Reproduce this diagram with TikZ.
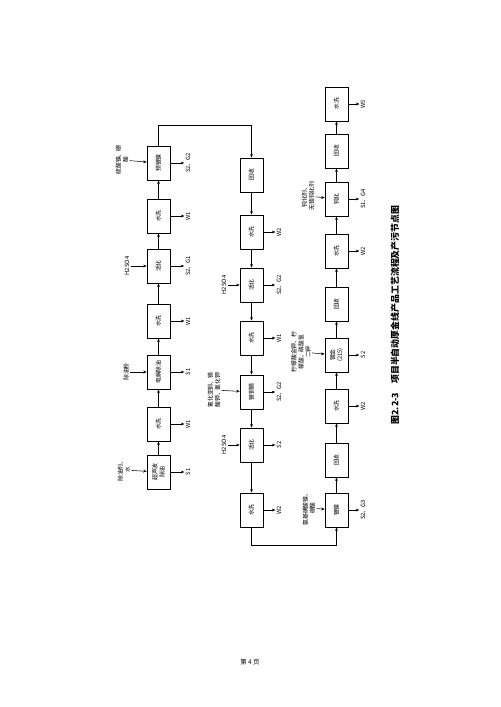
\documentclass[tikz,border=0pt]{standalone}
\usepackage{fontspec}
\newfontfamily\cjk{Noto Sans CJK SC}
\usetikzlibrary{arrows.meta,positioning}

\begin{document}
\begin{tikzpicture}[x=0.03cm, y=-0.03cm, >={Stealth[length=3pt,width=2.4pt]},
  font=\cjk\fontsize{5}{6}\selectfont, line width=0.45pt,
  stepbox/.style={draw, rotate=90, minimum width=1.03cm, minimum height=0.69cm, inner sep=1pt, align=center},
  lab/.style={rotate=90, inner sep=1pt, align=center}]
  \useasboundingbox (0,0) rectangle (500,707);
  % column 1, flows upward
  \node[stepbox] (c1a) at (158.5,472) {超声波\\除油};
  \node[stepbox] (c1b) at (158.5,424) {水洗};
  \node[stepbox] (c1c) at (158.5,372) {电解除油};
  \node[stepbox] (c1d) at (158.5,321) {水洗};
  \node[stepbox] (c1e) at (158.5,266) {活化};
  \node[stepbox] (c1f) at (158.5,216) {水洗};
  \node[stepbox] (c1g) at (158.5,163) {预镀镍};
  \foreach \a/\b in {c1a/c1b, c1b/c1c, c1c/c1d, c1d/c1e, c1e/c1f, c1f/c1g}
    \draw[->] (\a) -- (\b);
  \node[lab] (i1a) at (124,470) {除油剂、\\水};
  \node[lab] (i1c) at (126,372) {除油粉};
  \node[lab] (i1e) at (127,266) {H2SO4};
  \node[lab] (i1g) at (122,160) {硫酸镍、硼\\酸};
  \foreach \a/\b in {i1a/c1a, i1c/c1c, i1e/c1e, i1g/c1g}
    \draw[->] (\a) -- (\b);
  \node[lab] (o1a) at (188,472) {S1};
  \node[lab] (o1b) at (188,424) {W1};
  \node[lab] (o1c) at (188,372) {S1};
  \node[lab] (o1d) at (188,321) {W1};
  \node[lab] (o1e) at (188,266) {S2、G1};
  \node[lab] (o1f) at (188,216) {W1};
  \node[lab] (o1g) at (188,163) {S2、G2};
  \foreach \a/\b in {c1a/o1a, c1b/o1b, c1c/o1c, c1d/o1d, c1e/o1e, c1f/o1f, c1g/o1g}
    \draw[->] (\a) -- (\b);
  % column 2, flows downward
  \node[stepbox] (c2a) at (251.5,175) {回收};
  \node[stepbox] (c2b) at (251.5,232) {水洗};
  \node[stepbox] (c2c) at (251.5,285) {活化};
  \node[stepbox] (c2d) at (251.5,338) {水洗};
  \node[stepbox] (c2e) at (251.5,392) {镀铜锡};
  \node[stepbox] (c2f) at (251.5,445) {活化};
  \node[stepbox] (c2g) at (251.5,510) {水洗};
  \foreach \a/\b in {c2a/c2b, c2b/c2c, c2c/c2d, c2d/c2e, c2e/c2f, c2f/c2g}
    \draw[->] (\a) -- (\b);
  \node[lab] (i2c) at (224,285) {H2SO4};
  \node[lab] (i2e) at (214,390) {氰化亚铜、锡\\酸钾、氰化钾};
  \node[lab] (i2f) at (224,445) {H2SO4};
  \foreach \a/\b in {i2c/c2c, i2e/c2e, i2f/c2f}
    \draw[->] (\a) -- (\b);
  \node[lab] (o2b) at (279,232) {W2};
  \node[lab] (o2c) at (279,285) {S2、G2};
  \node[lab] (o2d) at (279,338) {W1};
  \node[lab] (o2e) at (279,392) {S2、G2};
  \node[lab] (o2f) at (279,445) {S2};
  \node[lab] (o2g) at (279,510) {W2};
  \foreach \a/\b in {c2b/o2b, c2c/o2c, c2d/o2d, c2e/o2e, c2f/o2f, c2g/o2g}
    \draw[->] (\a) -- (\b);
  % column 3, flows upward
  \node[stepbox] (c3a) at (336.5,510) {镀镍};
  \node[stepbox] (c3b) at (336.5,460) {回收};
  \node[stepbox] (c3c) at (336.5,406) {水洗};
  \node[stepbox] (c3d) at (336.5,355) {镀金\\(215)};
  \node[stepbox] (c3e) at (336.5,304) {回收};
  \node[stepbox] (c3f) at (336.5,251) {水洗};
  \node[stepbox] (c3g) at (336.5,199) {钝化};
  \node[stepbox] (c3h) at (336.5,151) {回收};
  \node[stepbox] (c3i) at (336.5,104) {水洗};
  \foreach \a/\b in {c3a/c3b, c3b/c3c, c3c/c3d, c3d/c3e, c3e/c3f, c3f/c3g, c3g/c3h, c3h/c3i}
    \draw[->] (\a) -- (\b);
  \node[lab] (i3a) at (309,508) {氨基磺酸镍、\\硼酸};
  \node[lab] (i3d) at (301,352) {柠檬酸金钾、柠\\檬酸、磷酸氢\\二钾};
  \node[lab] (i3g) at (308,196) {钝化剂、\\无铬钝化剂};
  \foreach \a/\b in {i3a/c3a, i3d/c3d, i3g/c3g}
    \draw[->] (\a) -- (\b);
  \node[lab] (o3a) at (363,510) {S2、G3};
  \node[lab] (o3c) at (363,406) {W2};
  \node[lab] (o3d) at (363,355) {S2};
  \node[lab] (o3f) at (363,251) {W2};
  \node[lab] (o3g) at (363,199) {S1、G4};
  \node[lab] (o3i) at (363,104) {W5};
  \foreach \a/\b in {c3a/o3a, c3c/o3c, c3d/o3d, c3f/o3f, c3g/o3g, c3i/o3i}
    \draw[->] (\a) -- (\b);
  % links between columns
  \coordinate (t1) at (158.5,125);
  \coordinate (t2) at (251.5,545);
  \draw[->] (c1g) -- (t1) -| (c2a);
  \draw[->] (c2g) -- (t2) -| (c3a);
  % caption and page number
  \node[lab, font=\cjk\bfseries\fontsize{7.6}{9}\selectfont] (title) at (395,315) {图2.2-3\quad 项目半自动厚金线产品工艺流程及产污节点图};
  \node[font=\cjk\fontsize{5.5}{6}\selectfont] (page) at (250,662) {第 4 页};
\end{tikzpicture}
\end{document}
